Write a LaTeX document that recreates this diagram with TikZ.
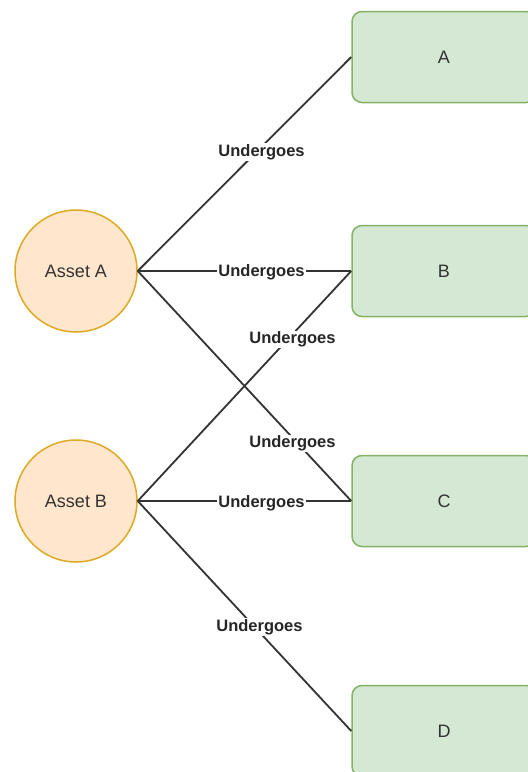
\documentclass[tikz,border=0pt]{standalone}
\usepackage{fontspec}
\setmainfont{Liberation Sans}
\begin{document}
\begin{tikzpicture}[x=1pt,y=-1pt,
  asset/.style={circle, draw=assetline!85, fill=assetfill, line width=1.5pt,
    minimum size=122pt, inner sep=0pt, font=\fontsize{18}{20}\selectfont, text=black!80},
  stage/.style={rectangle, rounded corners=10pt, draw=stageline, fill=stagefill, line width=1.5pt,
    minimum width=184pt, minimum height=91pt, inner sep=0pt, font=\fontsize{18}{20}\selectfont, text=black!80},
  link/.style={draw=black!80, line width=1.8pt},
  tag/.style={fill=white, inner sep=1pt, font=\bfseries\fontsize{16.5}{18}\selectfont, text=black!85}]
\definecolor{assetfill}{HTML}{FFE6CC}
\definecolor{assetline}{HTML}{D79B00}
\definecolor{stagefill}{HTML}{D5E8D4}
\definecolor{stageline}{HTML}{82B366}
\useasboundingbox (0,0) rectangle (528,772);
\begin{scope}
\clip (0,0) rectangle (528,772);
% the two assets
\node[asset] (aa) at (76,271) {Asset A};
\node[asset] (ab) at (76,501) {Asset B};
% the four stages, partly beyond the right edge
\node[stage] (sa) at (444,57) {A};
\node[stage] (sb) at (444,271) {B};
\node[stage] (sc) at (444,501) {C};
\node[stage] (sd) at (444,731) {D};
% connectors with their labels
\draw[link] (aa.east) -- node[tag, pos=0.58, yshift=-5pt] {Undergoes} (sa.west);
\draw[link] (aa.east) -- node[tag, pos=0.58, yshift=-1pt] {Undergoes} (sb.west);
\draw[link] (aa.east) -- node[tag, pos=0.72, yshift=-7pt, xshift=1pt] {Undergoes} (sc.west);
\draw[link] (ab.east) -- node[tag, pos=0.72, yshift=-4pt, xshift=1pt] {Undergoes} (sb.west);
\draw[link] (ab.east) -- node[tag, pos=0.58, yshift=-2pt] {Undergoes} (sc.west);
\draw[link] (ab.east) -- node[tag, pos=0.57, yshift=5pt] {Undergoes} (sd.west);
\end{scope}
\end{tikzpicture}
\end{document}
